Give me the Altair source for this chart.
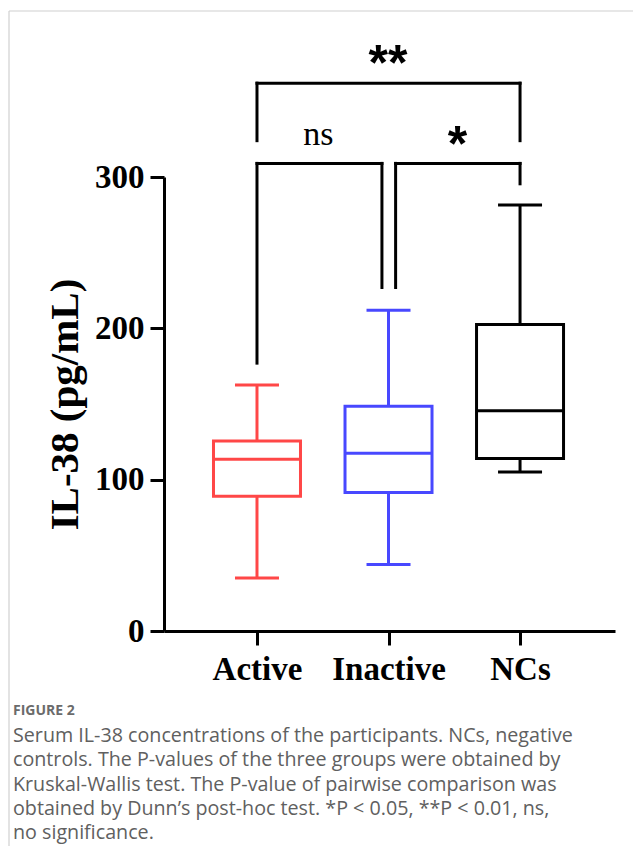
import altair as alt
import pandas as pd

# ---- data ----
groups = ["Active", "Inactive", "NCs"]
group_pos = [1, 2, 3]
whisker_low = [35, 44, 105]
q1 = [89, 91.5, 114]
median = [113.5, 117.5, 145.5]
q3 = [125.5, 148.5, 202.5]
whisker_high = [162.5, 212, 281.5]
box_colors = ["#ff4747", "#4848ff", "#000000"]

# significance brackets (data units)
br_x1 = [1, 2.054, 1]
br_x2 = [1.95, 3, 3]
br_top = [309, 309, 362]
br_left_bottom = [177, 227, 324]
br_right_bottom = [227, 295.5, 324]
sig_labels = ["ns", "*", "**"]
sig_x = [1.466, 2.524, 1.996]
sig_y = [328, 328, 381]

y_ticks = [0, 100, 200, 300]

caption_title = "FIGURE 2"
caption_lines = [
    "Serum IL-38 concentrations of the participants. NCs, negative",
    "controls. The P-values of the three groups were obtained by",
    "Kruskal-Wallis test. The P-value of pairwise comparison was",
    "obtained by Dunn\u2019s post-hoc test. *P < 0.05, **P < 0.01, ns,",
    "no significance.",
]

# ---- tables ----
box = pd.DataFrame({
    "group": groups, "pos": group_pos, "lo": whisker_low, "q1": q1,
    "med": median, "q3": q3, "hi": whisker_high, "color": box_colors,
})

seg_rows = []
for a, b, t, lb, rb in zip(br_x1, br_x2, br_top, br_left_bottom, br_right_bottom):
    seg_rows.append({"x": a, "x2": a, "y": lb, "y2": t})
    seg_rows.append({"x": a, "x2": b, "y": t, "y2": t})
    seg_rows.append({"x": b, "x2": b, "y": t, "y2": rb})
segs = pd.DataFrame(seg_rows)

sig = pd.DataFrame({"label": sig_labels, "x": sig_x, "y": sig_y})

SERIF = "Liberation Serif"
W, H = 451, 454
label_expr = " : ".join(
    [f"datum.value == {p} ? '{g}'" for p, g in zip(group_pos[:-1], groups[:-1])]
) + f" : '{groups[-1]}'"

xscale = alt.Scale(domain=[0.331, 3.684], nice=False, zero=False)
yscale = alt.Scale(domain=[0, 300], nice=False)

xaxis = alt.Axis(
    values=group_pos, labelExpr=label_expr, title=None, grid=False,
    domainColor="black", domainWidth=3, tickColor="black", tickWidth=3, tickSize=14,
    labelFont=SERIF, labelFontWeight="bold", labelFontSize=33, labelColor="black",
    labelPadding=8, labelFlush=False,
)
yaxis = alt.Axis(
    values=y_ticks, title="IL-38 (pg/mL)", grid=False,
    domainColor="black", domainWidth=3, tickColor="black", tickWidth=3, tickSize=14,
    labelFont=SERIF, labelFontWeight="bold", labelFontSize=33, labelColor="black",
    labelPadding=6, titleFont=SERIF, titleFontWeight="bold", titleFontSize=41,
    titleColor="black", titlePadding=8,
)

base = alt.Chart(box)
col = alt.Color("color:N", scale=None)

whisk_lo = base.mark_rule(strokeWidth=3, opacity=1).encode(
    x=alt.X("pos:Q", scale=xscale, axis=xaxis),
    y=alt.Y("lo:Q", scale=yscale, axis=yaxis), y2="q1:Q", color=col)
whisk_hi = base.mark_rule(strokeWidth=3, opacity=1).encode(
    x=alt.X("pos:Q", scale=xscale), y=alt.Y("q3:Q", scale=yscale), y2="hi:Q", color=col)
boxes = base.mark_bar(size=87, fill="white", strokeWidth=3, orient="vertical",
                      opacity=1).encode(
    x=alt.X("pos:Q", scale=xscale), y=alt.Y("q1:Q", scale=yscale), y2="q3:Q",
    stroke=alt.Stroke("color:N", scale=None))
med_tick = base.mark_tick(orient="horizontal", size=87, thickness=3, opacity=1).encode(
    x=alt.X("pos:Q", scale=xscale), y=alt.Y("med:Q", scale=yscale), color=col)
cap_lo = base.mark_tick(orient="horizontal", size=44, thickness=3, opacity=1).encode(
    x=alt.X("pos:Q", scale=xscale), y=alt.Y("lo:Q", scale=yscale), color=col)
cap_hi = base.mark_tick(orient="horizontal", size=44, thickness=3, opacity=1).encode(
    x=alt.X("pos:Q", scale=xscale), y=alt.Y("hi:Q", scale=yscale), color=col)

brackets = alt.Chart(segs).mark_rule(
    strokeWidth=3, color="black", clip=False, strokeCap="square").encode(
    x=alt.X("x:Q", scale=xscale), x2="x2:Q",
    y=alt.Y("y:Q", scale=yscale), y2="y2:Q")

sig_ns = alt.Chart(sig[sig.label == "ns"]).mark_text(
    font=SERIF, fontSize=34, color="black", baseline="middle", clip=False).encode(
    x=alt.X("x:Q", scale=xscale), y=alt.Y("y:Q", scale=yscale), text="label:N")
sig_star = alt.Chart(sig[sig.label != "ns"]).mark_text(
    font="Liberation Sans", fontWeight="bold", fontSize=50, color="black",
    baseline="middle", dy=11, clip=False).encode(
    x=alt.X("x:Q", scale=xscale), y=alt.Y("y:Q", scale=yscale), text="label:N")

# caption below the plot (pixel layout relative to the plot area)
fig_title = alt.Chart(pd.DataFrame({"t": [caption_title]})).mark_text(
    font="Open Sans", fontSize=14, fontWeight="bold", color="#6b6b6b",
    align="left", baseline="middle").encode(
    x=alt.value(13 - 164), y=alt.value(711 - 177), text="t:N")

CAP_TOP, CAP_STEP = 736, 24.3
cap_layers = []
for i, line in enumerate(caption_lines):
    cap_layers.append(
        alt.Chart(pd.DataFrame({"t": [line]})).mark_text(
            font="Open Sans", fontSize=19.7, color="#606060",
            align="left", baseline="middle").encode(
            x=alt.value(13 - 164), y=alt.value(CAP_TOP + i * CAP_STEP - 177),
            text="t:N")
    )

# thin frame visible at the top-left of the figure panel
frame = alt.Chart(pd.DataFrame({"t": [0]})).mark_rule(
    color="#d0d0d0", strokeWidth=1.2, clip=False).encode(
    x=alt.value(9 - 164), x2=alt.value(641 - 164),
    y=alt.value(11 - 177), y2=alt.value(11 - 177))
frame_left = alt.Chart(pd.DataFrame({"t": [0]})).mark_rule(
    color="#d0d0d0", strokeWidth=1.2, clip=False).encode(
    x=alt.value(9 - 164), y=alt.value(11 - 177), y2=alt.value(863 - 177))

chart = alt.layer(
    frame, frame_left,
    whisk_lo, whisk_hi, boxes, med_tick, cap_lo, cap_hi, brackets, sig_ns, sig_star,
    fig_title, *cap_layers,
).properties(
    width=W, height=H,
    autosize=alt.AutoSizeParams(type="none"),
    padding={"left": 156, "top": 169, "right": 18, "bottom": 215},
).configure(background="white", view=alt.ViewConfig(stroke=None))

chart.save("out.html", embed_options={"renderer": "svg", "actions": False})
